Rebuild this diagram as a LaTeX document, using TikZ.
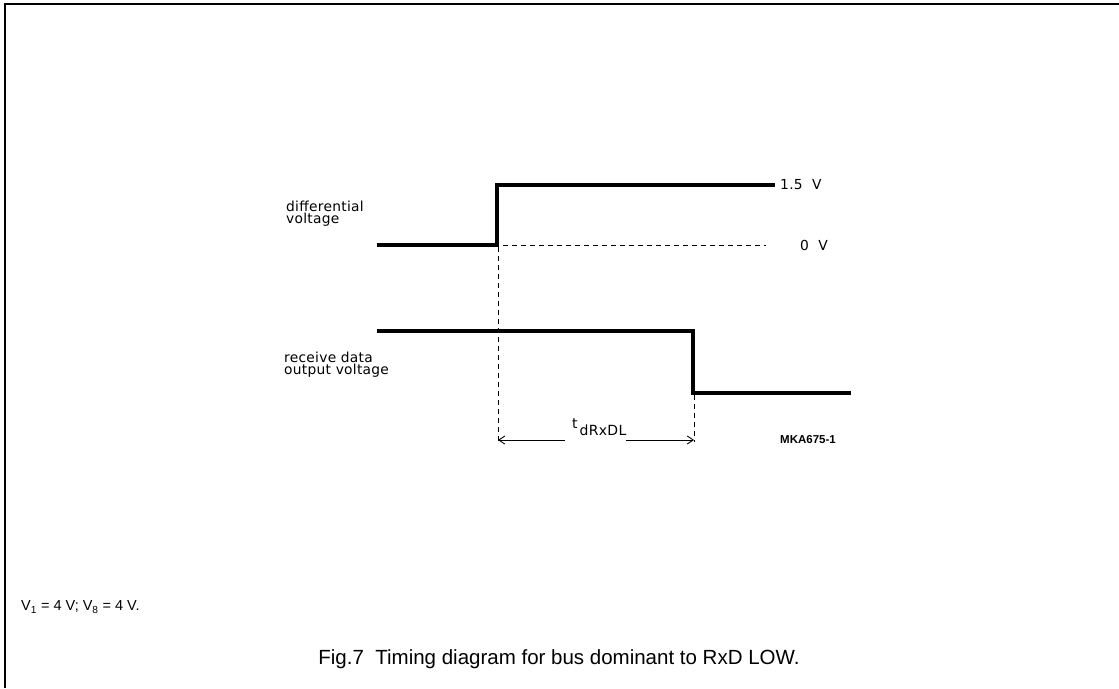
\documentclass[tikz,border=0pt]{standalone}
\usepackage{fontspec}
\setmainfont{Liberation Sans}
\newfontfamily\cadfont{DejaVu Sans}[LetterSpace=2]
\usetikzlibrary{arrows.meta}
\begin{document}
\begin{tikzpicture}[x=1pt,y=-1pt,
  sig/.style={line width=3.2pt},
  guide/.style={line width=0.8pt,dash pattern=on 5pt off 4pt},
  lbl/.style={font=\cadfont\fontsize{13.8}{12}\selectfont,inner sep=0pt,align=left},
  barb/.style={line width=0.9pt}]
\useasboundingbox (0,0) rectangle (1119,688);
\draw[line width=2pt] (5,688) -- (5,4) -- (1119,4);
% differential voltage
\coordinate (d0) at (377,245);
\coordinate (d1) at (497,245);
\coordinate (d2) at (497,185);
\coordinate (d3) at (775,185);
\draw[sig] (d0) -- (d1) -- (d2) -- (d3);
\coordinate (z0) at (503,245);
\coordinate (z1) at (766,245);
\draw[guide] (z0) -- (z1);
\node[lbl,anchor=west] (v15) at (780,185) {1.5\ \ V};
\node[lbl,anchor=west] (v0) at (800,245) {0\ \ V};
\node[lbl,anchor=west] (dl) at (286,214) {differential\\voltage};
% receive data
\coordinate (r0) at (377,331);
\coordinate (r1) at (693,331);
\coordinate (r2) at (693,393);
\coordinate (r3) at (851,393);
\draw[sig] (r0) -- (r1) -- (r2) -- (r3);
\node[lbl,anchor=west] (rl) at (284,365) {receive data\\output voltage};
% guides
\coordinate (g1) at (498,442);
\coordinate (g2) at (694,442);
\draw[guide] (d1) ++(1,2) -- (g1);
\draw[guide] (r2) ++(1,2) -- (g2);
\coordinate (a1) at (498,440);
\coordinate (a2) at (694,440);
\node[font=\cadfont\fontsize{14}{14}\selectfont,inner sep=0pt,anchor=base west] (t) at (572,428) {t\hspace{2pt}\raisebox{-7pt}{dRxDL}};
\draw[barb,{Straight Barb[length=6pt,width=8pt]}-] (a1) -- ([xshift=-7pt]t.west |- a1);
\draw[barb,-{Straight Barb[length=6pt,width=8pt]}] ([xshift=0pt]t.east |- a2) -- (a2);
\node[font=\fontsize{11.5}{11.5}\selectfont\bfseries,inner sep=0pt,anchor=west] (mk) at (780,440) {MKA675-1};
\node[font=\fontsize{14.5}{14.5}\selectfont,inner sep=0pt,anchor=west] (cond) at (21,607) {V\textsubscript{1} = 4 V; V\textsubscript{8} = 4 V.};
\node[font=\fontsize{20.5}{20.5}\selectfont,inner sep=0pt] (cap) at (559,659) {Fig.7\ \ Timing diagram for bus dominant to RxD LOW.};
\end{tikzpicture}
\end{document}
